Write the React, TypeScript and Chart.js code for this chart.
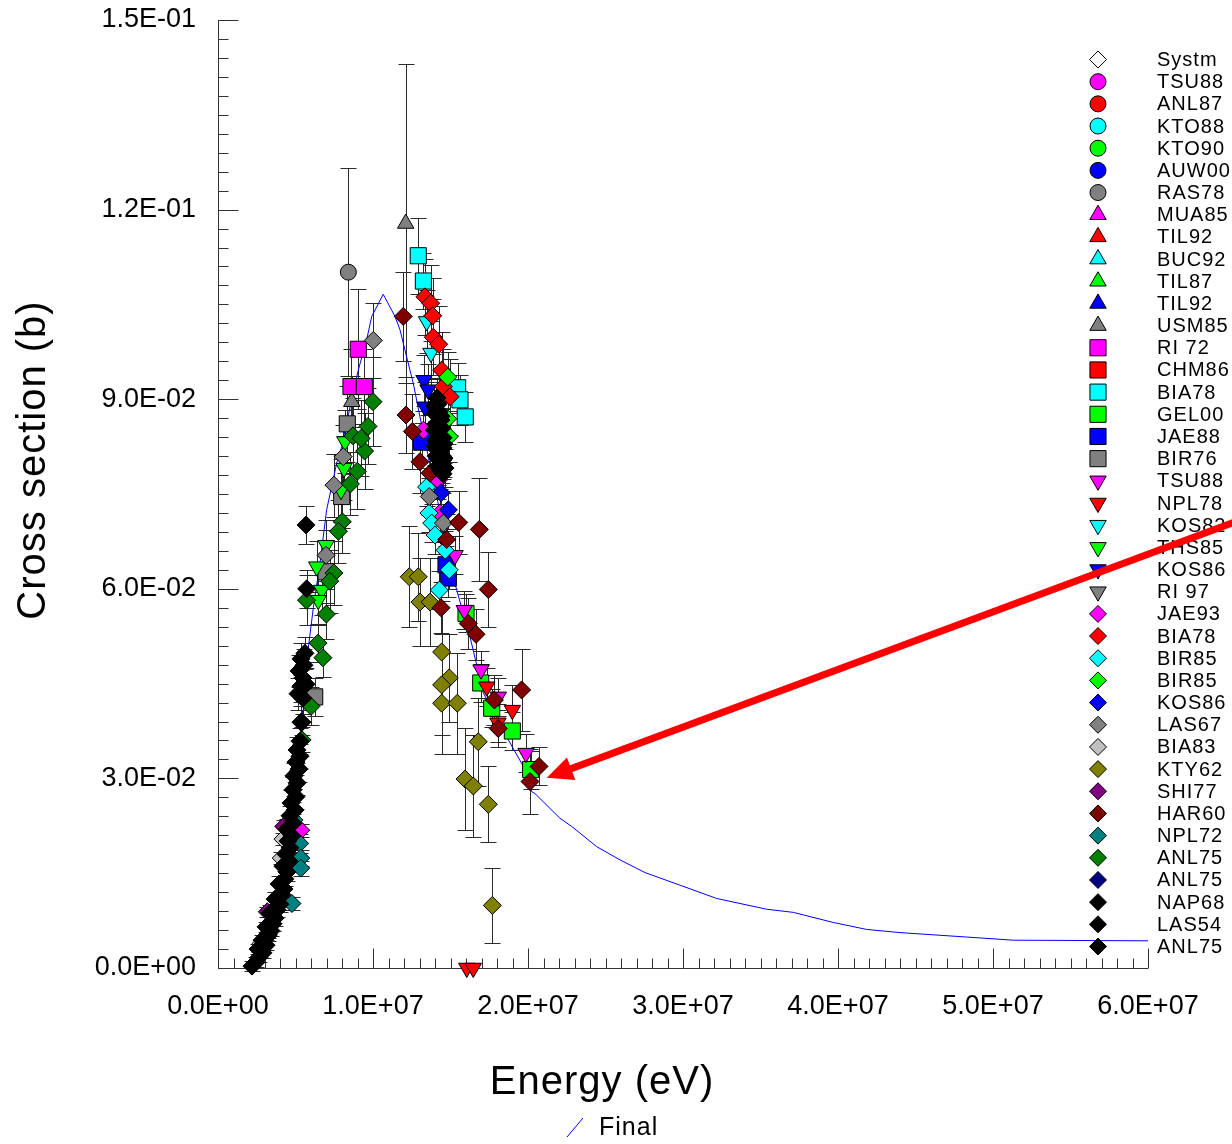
import React, { useEffect, useRef } from 'react';
import { Chart, registerables } from 'chart.js';
import { drawPoint } from 'chart.js/helpers';

Chart.register(...registerables);

const MEV = 1e6;
const FONT = '"Liberation Sans", Arial, Helvetica, sans-serif';

const X_TITLE = 'Energy (eV)';
const Y_TITLE = 'Cross section (b)';
const CURVE_LABEL = 'Final';

// Evaluated curve (energy in MeV, cross section in b)
const FINAL_E = [2.19, 2.84, 3.68, 4.65, 5.27, 5.81, 6.15, 6.58, 7.01, 7.66, 7.98, 8.52, 9.05, 9.59, 9.92, 10.66, 11.42, 11.74, 12.17, 12.60, 13.03, 15.29, 15.40, 16.26, 17.12, 18.08, 18.73, 19.70, 20.24, 20.45, 22.06, 22.82, 24.43, 25.94, 27.55, 29.81, 32.17, 35.40, 37.12, 39.70, 41.85, 44.00, 48.30, 51.31, 60.0];
const FINAL_S = [0, 0.0044, 0.0108, 0.0203, 0.0334, 0.0503, 0.0570, 0.0641, 0.0725, 0.0799, 0.0825, 0.0888, 0.0946, 0.0994, 0.1031, 0.1066, 0.1031, 0.1010, 0.0967, 0.0925, 0.0872, 0.0609, 0.0598, 0.0524, 0.0435, 0.0392, 0.0361, 0.0319, 0.0279, 0.0276, 0.0237, 0.0224, 0.0192, 0.0171, 0.0151, 0.0131, 0.0110, 0.0093, 0.0088, 0.0072, 0.0061, 0.0056, 0.0049, 0.0044, 0.0043];

// Experimental data sets: energy (MeV), cross section (b), uncertainty (b)
const RAS78_E = [8.41];
const RAS78_S = [0.1101];
const RAS78_D = [0.0165];

const USM85_E = [12.11, 8.63];
const USM85_S = [0.1178, 0.0896];
const USM85_D = [0.0252, 0.004];

const RI72_E = [9.05, 8.58, 9.44];
const RI72_S = [0.0979, 0.0920, 0.0920];
const RI72_D = [0.0095, 0.006, 0.006];

const BIA78SQ_E = [12.92, 13.25, 15.46, 15.61, 15.95];
const BIA78SQ_S = [0.1127, 0.1087, 0.0918, 0.0899, 0.0872];
const BIA78SQ_D = [0.006, 0.0045, 0.004, 0.004, 0.004];

const GEL00_E = [16.00, 16.95, 17.66, 18.99, 20.17];
const GEL00_S = [0.0561, 0.0451, 0.0411, 0.0375, 0.0314];
const GEL00_D = [0.003, 0.003, 0.003, 0.003, 0.003];

const JAE88_E = [13.13, 14.86, 14.71];
const JAE88_S = [0.0832, 0.0617, 0.0638];
const JAE88_D = [0.003, 0.003, 0.003];

const BIR76_E = [8.34, 7.98, 6.24, 6.97];
const BIR76_S = [0.0861, 0.0746, 0.0429, 0.0627];
const BIR76_D = [0.006, 0.005, 0.003, 0.005];

const TSU88T_E = [15.29, 15.89, 16.97, 18.08, 19.87];
const TSU88T_S = [0.0653, 0.0566, 0.0472, 0.0429, 0.0340];
const TSU88T_D = [0.003, 0.003, 0.003, 0.003, 0.003];

const NPL78_E = [17.34, 18.99, 18.06, 16.05, 16.47];
const NPL78_S = [0.0445, 0.0408, 0.0388, 0, 0];
const NPL78_D = [0.003, 0.004, 0.003, 0, 0];

const KOS82_E = [13.46, 13.74];
const KOS82_S = [0.1023, 0.0973];
const KOS82_D = [0.005, 0.005];

const THS85_E = [8.19, 8.13, 7.94, 6.97, 6.37, 6.69, 6.47];
const THS85_S = [0.0833, 0.0791, 0.0756, 0.0669, 0.0635, 0.0598, 0.0582];
const THS85_D = [0.005, 0.005, 0.005, 0.004, 0.004, 0.004, 0.004];

const KOS86T_E = [13.29, 13.55, 13.35];
const KOS86T_S = [0.0930, 0.0915, 0.0888];
const KOS86T_D = [0.004, 0.004, 0.004];

const JAE93_E = [14.21, 14.32, 13.25, 5.34, 14.71];
const JAE93_S = [0.0772, 0.0720, 0.0851, 0.0218, 0.0677];
const JAE93_D = [0.003, 0.003, 0.003, 0.001, 0.003];

const BIA78D_E = [13.35, 13.72, 13.85, 13.89, 14.24, 14.43, 14.54, 14.97];
const BIA78D_S = [0.1062, 0.1052, 0.1032, 0.0998, 0.0987, 0.0946, 0.0920, 0.0904];
const BIA78D_D = [0.006, 0.006, 0.006, 0.006, 0.006, 0.006, 0.006, 0.006];

const BIR85C_E = [13.46, 13.61, 13.79, 14.00, 14.65, 14.92, 14.28];
const BIR85C_S = [0.0761, 0.0720, 0.0704, 0.0685, 0.0661, 0.0630, 0.0598];
const BIR85C_D = [0.003, 0.003, 0.003, 0.003, 0.003, 0.003, 0.003];

const BIR85G_E = [14.82, 14.82, 14.92];
const BIR85G_S = [0.0935, 0.0869, 0.0841];
const BIR85G_D = [0.004, 0.004, 0.004];

const KOS86D_E = [14.39, 14.86, 14.52];
const KOS86D_S = [0.0752, 0.0725, 0.0804];
const KOS86D_D = [0.003, 0.003, 0.003];

const LAS67_E = [10.02, 8.08, 7.48, 6.97, 14.15, 13.63, 14.54];
const LAS67_S = [0.0993, 0.0809, 0.0764, 0.0653, 0.0894, 0.0746, 0.0704];
const LAS67_D = [0.006, 0.005, 0.005, 0.004, 0.004, 0.003, 0.003];

const BIA83_E = [4.19, 4.08, 2.79];
const BIA83_S = [0.0204, 0.0174, 0.0039];
const BIA83_D = [0.001, 0.001, 0.0005];

const KTY62_E = [12.34, 12.92, 13.03, 13.68, 14.43, 14.92, 14.43, 14.43, 15.44, 16.79, 15.94, 16.47, 17.44, 17.70];
const KTY62_S = [0.0619, 0.0619, 0.0579, 0.0579, 0.0500, 0.0459, 0.0448, 0.0419, 0.0419, 0.0358, 0.0299, 0.0288, 0.0259, 0.0099];
const KTY62_D = [0.008, 0.007, 0.007, 0.007, 0.008, 0.007, 0.008, 0.008, 0.008, 0.007, 0.008, 0.008, 0.006, 0.006];

const SHI77_E = [4.24, 3.18];
const SHI77_S = [0.0224, 0.0089];
const SHI77_D = [0.001, 0.0008];

const HAR60_E = [11.95, 12.13, 12.54, 13.03, 13.68, 15.53, 16.86, 17.44, 14.39, 16.15, 16.65, 14.75, 19.59, 17.83, 18.08, 20.71, 20.13];
const HAR60_S = [0.1031, 0.0875, 0.0849, 0.0801, 0.0783, 0.0705, 0.0694, 0.0599, 0.0570, 0.0545, 0.0528, 0.0678, 0.0440, 0.0424, 0.0379, 0.0319, 0.0295];
const HAR60_D = [0.0071, 0.006, 0.006, 0.005, 0.004, 0.005, 0.0082, 0.006, 0.004, 0.004, 0.004, 0.004, 0.0065, 0.004, 0.003, 0.003, 0.0052];

const NPL72_E = [4.90, 5.27, 5.34, 5.34, 4.77];
const NPL72_S = [0.0234, 0.0197, 0.0174, 0.0158, 0.0102];
const NPL72_D = [0.0015, 0.0015, 0.0012, 0.0012, 0.001];

const ANL75G_E = [10.00, 9.68, 9.46, 8.99, 8.54, 8.71, 9.23, 8.02, 7.77, 7.48, 7.21, 6.99, 6.45, 6.77, 5.71, 6.00, 5.42];
const ANL75G_S = [0.0896, 0.0857, 0.0818, 0.0786, 0.0766, 0.0842, 0.0838, 0.0706, 0.0691, 0.0625, 0.0612, 0.0560, 0.0514, 0.0491, 0.0582, 0.0414, 0.0361];
const ANL75G_D = [0.007, 0.006, 0.006, 0.006, 0.005, 0.006, 0.006, 0.005, 0.005, 0.005, 0.005, 0.004, 0.003, 0.003, 0.004, 0.003, 0.002];

const ANL75N_E = [3.23, 2.84];
const ANL75N_S = [0.0053, 0.0028];
const ANL75N_D = [0.0005, 0.0005];

const NAP68_E = [14.13, 13.94, 14.19, 14.00, 14.26, 14.39, 14.06, 13.94, 14.45, 14.19, 14.52, 14.06, 14.32, 14.52, 14.13, 14.39, 14.58, 14.26, 14.45, 14.65, 14.32, 14.52, 14.19, 14.00, 14.39, 14.58, 14.06];
const NAP68_S = [0.0902, 0.0889, 0.0892, 0.0877, 0.0880, 0.0867, 0.0861, 0.0851, 0.0854, 0.0845, 0.0839, 0.0835, 0.0829, 0.0823, 0.0820, 0.0813, 0.0807, 0.0804, 0.0797, 0.0791, 0.0788, 0.0782, 0.0794, 0.0826, 0.0873, 0.0829, 0.0810];
const NAP68_D = [0.003, 0.003, 0.003, 0.003, 0.003, 0.003, 0.003, 0.003, 0.003, 0.003, 0.003, 0.003, 0.003, 0.003, 0.003, 0.003, 0.003, 0.003, 0.003, 0.003, 0.003, 0.003, 0.003, 0.003, 0.003, 0.003, 0.003];

const LAS54_E = [5.68, 5.72, 5.42, 5.29];
const LAS54_S = [0.0701, 0.0600, 0.0389, 0.0359];
const LAS54_D = [0.003, 0.003, 0.002, 0.002];

const ANL75K_E = [2.19, 2.45, 2.65, 2.90, 2.58, 3.10, 2.84, 3.23, 3.42, 3.10, 3.55, 3.68, 3.35, 3.81, 4.00, 3.68, 4.13, 4.26, 3.94, 4.32, 4.45, 4.19, 4.58, 4.39, 4.65, 4.52, 4.77, 4.45, 4.84, 4.65, 4.97, 4.71, 5.03, 4.84, 5.10, 4.90, 5.23, 5.03, 5.29, 5.10, 5.35, 5.16, 5.35, 5.48, 5.23, 5.55, 5.35, 5.68, 5.48, 5.61];
const ANL75K_S = [0.0003, 0.0009, 0.0017, 0.0024, 0.0030, 0.0036, 0.0044, 0.0051, 0.0059, 0.0065, 0.0070, 0.0079, 0.0087, 0.0092, 0.0101, 0.0109, 0.0116, 0.0125, 0.0133, 0.0141, 0.0152, 0.0161, 0.0169, 0.0180, 0.0190, 0.0201, 0.0209, 0.0220, 0.0229, 0.0241, 0.0250, 0.0261, 0.0271, 0.0282, 0.0293, 0.0304, 0.0315, 0.0326, 0.0335, 0.0345, 0.0389, 0.0434, 0.0446, 0.0459, 0.0470, 0.0479, 0.0489, 0.0449, 0.0427, 0.0498];
const ANL75K_D = [0.0008, 0.0008, 0.0008, 0.0008, 0.0008, 0.0008, 0.0008, 0.0008, 0.0008, 0.0008, 0.0012, 0.0012, 0.0012, 0.0012, 0.0012, 0.0012, 0.0012, 0.0012, 0.0012, 0.0012, 0.0015, 0.0015, 0.0015, 0.0015, 0.0015, 0.0015, 0.0015, 0.0015, 0.0015, 0.0015, 0.002, 0.002, 0.002, 0.002, 0.002, 0.002, 0.002, 0.002, 0.002, 0.002, 0.0025, 0.0025, 0.0025, 0.0025, 0.0025, 0.0025, 0.0025, 0.0025, 0.0025, 0.0025];

const EMPTY: number[] = [];

// Legend order: label, marker shape, fill colour, data
const SERIES = [
  { label: 'Systm', shape: 'diamond', color: '#ffffff', e: EMPTY, s: EMPTY, d: EMPTY },
  { label: 'TSU88', shape: 'circle', color: '#ff00ff', e: EMPTY, s: EMPTY, d: EMPTY },
  { label: 'ANL87', shape: 'circle', color: '#ff0000', e: EMPTY, s: EMPTY, d: EMPTY },
  { label: 'KTO88', shape: 'circle', color: '#00ffff', e: EMPTY, s: EMPTY, d: EMPTY },
  { label: 'KTO90', shape: 'circle', color: '#00ff00', e: EMPTY, s: EMPTY, d: EMPTY },
  { label: 'AUW00', shape: 'circle', color: '#0000ff', e: EMPTY, s: EMPTY, d: EMPTY },
  { label: 'RAS78', shape: 'circle', color: '#808080', e: RAS78_E, s: RAS78_S, d: RAS78_D },
  { label: 'MUA85', shape: 'tri', color: '#ff00ff', e: EMPTY, s: EMPTY, d: EMPTY },
  { label: 'TIL92', shape: 'tri', color: '#ff0000', e: EMPTY, s: EMPTY, d: EMPTY },
  { label: 'BUC92', shape: 'tri', color: '#00ffff', e: EMPTY, s: EMPTY, d: EMPTY },
  { label: 'TIL87', shape: 'tri', color: '#00ff00', e: EMPTY, s: EMPTY, d: EMPTY },
  { label: 'TIL92', shape: 'tri', color: '#0000ff', e: EMPTY, s: EMPTY, d: EMPTY },
  { label: 'USM85', shape: 'tri', color: '#808080', e: USM85_E, s: USM85_S, d: USM85_D },
  { label: 'RI 72', shape: 'square', color: '#ff00ff', e: RI72_E, s: RI72_S, d: RI72_D },
  { label: 'CHM86', shape: 'square', color: '#ff0000', e: EMPTY, s: EMPTY, d: EMPTY },
  { label: 'BIA78', shape: 'square', color: '#00ffff', e: BIA78SQ_E, s: BIA78SQ_S, d: BIA78SQ_D },
  { label: 'GEL00', shape: 'square', color: '#00ff00', e: GEL00_E, s: GEL00_S, d: GEL00_D },
  { label: 'JAE88', shape: 'square', color: '#0000ff', e: JAE88_E, s: JAE88_S, d: JAE88_D },
  { label: 'BIR76', shape: 'square', color: '#808080', e: BIR76_E, s: BIR76_S, d: BIR76_D },
  { label: 'TSU88', shape: 'dtri', color: '#ff00ff', e: TSU88T_E, s: TSU88T_S, d: TSU88T_D },
  { label: 'NPL78', shape: 'dtri', color: '#ff0000', e: NPL78_E, s: NPL78_S, d: NPL78_D },
  { label: 'KOS82', shape: 'dtri', color: '#00ffff', e: KOS82_E, s: KOS82_S, d: KOS82_D },
  { label: 'THS85', shape: 'dtri', color: '#00ff00', e: THS85_E, s: THS85_S, d: THS85_D },
  { label: 'KOS86', shape: 'dtri', color: '#0000ff', e: KOS86T_E, s: KOS86T_S, d: KOS86T_D },
  { label: 'RI 97', shape: 'dtri', color: '#808080', e: EMPTY, s: EMPTY, d: EMPTY },
  { label: 'JAE93', shape: 'diamond', color: '#ff00ff', e: JAE93_E, s: JAE93_S, d: JAE93_D },
  { label: 'BIA78', shape: 'diamond', color: '#ff0000', e: BIA78D_E, s: BIA78D_S, d: BIA78D_D },
  { label: 'BIR85', shape: 'diamond', color: '#00ffff', e: BIR85C_E, s: BIR85C_S, d: BIR85C_D },
  { label: 'BIR85', shape: 'diamond', color: '#00ff00', e: BIR85G_E, s: BIR85G_S, d: BIR85G_D },
  { label: 'KOS86', shape: 'diamond', color: '#0000ff', e: KOS86D_E, s: KOS86D_S, d: KOS86D_D },
  { label: 'LAS67', shape: 'diamond', color: '#808080', e: LAS67_E, s: LAS67_S, d: LAS67_D },
  { label: 'BIA83', shape: 'diamond', color: '#c0c0c0', e: BIA83_E, s: BIA83_S, d: BIA83_D },
  { label: 'KTY62', shape: 'diamond', color: '#808000', e: KTY62_E, s: KTY62_S, d: KTY62_D },
  { label: 'SHI77', shape: 'diamond', color: '#800080', e: SHI77_E, s: SHI77_S, d: SHI77_D },
  { label: 'HAR60', shape: 'diamond', color: '#800000', e: HAR60_E, s: HAR60_S, d: HAR60_D },
  { label: 'NPL72', shape: 'diamond', color: '#008080', e: NPL72_E, s: NPL72_S, d: NPL72_D },
  { label: 'ANL75', shape: 'diamond', color: '#008000', e: ANL75G_E, s: ANL75G_S, d: ANL75G_D },
  { label: 'ANL75', shape: 'diamond', color: '#000080', e: ANL75N_E, s: ANL75N_S, d: ANL75N_D },
  { label: 'NAP68', shape: 'diamond', color: '#000000', e: NAP68_E, s: NAP68_S, d: NAP68_D },
  { label: 'LAS54', shape: 'diamond', color: '#000000', e: LAS54_E, s: LAS54_S, d: LAS54_D },
  { label: 'ANL75', shape: 'diamond', color: '#000000', e: ANL75K_E, s: ANL75K_S, d: ANL75K_D },
];

// Arrow annotation (data coordinates): from beyond the right edge to the last point
const ARROW_FROM = [65.94, 0.0709];
const ARROW_TO = [21.21, 0.0301];

const X_MAJOR = 1e7;
const X_MINOR = 1e6;
const Y_MAJOR = 0.03;
const Y_MINOR = 0.003;

// Target plot frame
const AREA = { left: 218, top: 20, right: 1148, bottom: 968 };

function shapeStyle(shape: string) {
  switch (shape) {
    case 'circle': return { pointStyle: 'circle', rotation: 0, radius: 8 };
    case 'tri': return { pointStyle: 'triangle', rotation: 0, radius: 9.5 };
    case 'dtri': return { pointStyle: 'triangle', rotation: 180, radius: 9.5 };
    case 'square': return { pointStyle: 'rect', rotation: 0, radius: 11.4 };
    default: return { pointStyle: 'rectRot', rotation: 0, radius: 9 };
  }
}

function sci(v: number) {
  if (Math.abs(v) < 1e-12) return '0.0E+00';
  const e = Math.floor(Math.log10(Math.abs(v)) + 1e-9);
  const m = v / Math.pow(10, e);
  const sign = e < 0 ? '-' : '+';
  return m.toFixed(1) + 'E' + sign + String(Math.abs(e)).padStart(2, '0');
}

const axesPlugin = {
  id: 'axesPlugin',
  beforeDatasetsDraw(chart: any) {
    const { ctx, chartArea } = chart;
    const xs = chart.scales.x, ys = chart.scales.y;
    ctx.save();
    ctx.strokeStyle = '#333';
    ctx.lineWidth = 1;
    const x0 = Math.round(chartArea.left) + 0.5;
    const y0 = Math.round(chartArea.bottom) + 0.5;
    ctx.beginPath();
    ctx.moveTo(x0, chartArea.top);
    ctx.lineTo(x0, y0);
    ctx.lineTo(chartArea.right, y0);
    const nY = Math.round((ys.max - ys.min) / Y_MINOR);
    for (let i = 0; i <= nY; i++) {
      const v = ys.min + i * Y_MINOR;
      const py = Math.round(ys.getPixelForValue(v)) + 0.5;
      const len = i % Math.round(Y_MAJOR / Y_MINOR) === 0 ? 20 : 10;
      ctx.moveTo(x0, py);
      ctx.lineTo(x0 + len, py);
    }
    const nX = Math.round((xs.max - xs.min) / X_MINOR);
    for (let i = 0; i <= nX; i++) {
      const v = xs.min + i * X_MINOR;
      const px = Math.round(xs.getPixelForValue(v)) + 0.5;
      const len = i % Math.round(X_MAJOR / X_MINOR) === 0 ? 20 : 10;
      ctx.moveTo(px, y0);
      ctx.lineTo(px, y0 - len);
    }
    ctx.stroke();
    ctx.restore();
  },
};

const errorBarPlugin = {
  id: 'errorBars',
  beforeDatasetsDraw(chart: any) {
    const { ctx } = chart;
    const xs = chart.scales.x, ys = chart.scales.y;
    ctx.save();
    ctx.lineWidth = 1;
    chart.data.datasets.forEach((ds: any) => {
      if (!ds.errors) return;
      ctx.strokeStyle = '#2a2a2a';
      ds.data.forEach((p: any, j: number) => {
        const e = ds.errors[j];
        if (!e) return;
        const px = Math.round(xs.getPixelForValue(p.x)) + 0.5;
        const yt = Math.round(ys.getPixelForValue(p.y + e)) + 0.5;
        const yb = Math.round(ys.getPixelForValue(p.y - e)) + 0.5;
        ctx.beginPath();
        ctx.moveTo(px, yt);
        ctx.lineTo(px, yb);
        ctx.moveTo(px - 8, yt);
        ctx.lineTo(px + 8, yt);
        ctx.moveTo(px - 8, yb);
        ctx.lineTo(px + 8, yb);
        ctx.stroke();
      });
    });
    ctx.restore();
  },
};

const overlayPlugin = {
  id: 'overlay',
  afterDraw(chart: any) {
    const { ctx } = chart;
    const xs = chart.scales.x, ys = chart.scales.y;
    ctx.save();
    ctx.fillStyle = '#000';
    ctx.textBaseline = 'middle';
    ctx.textAlign = 'center';
    (ctx as any).letterSpacing = '1px';
    ctx.font = `40px ${FONT}`;
    ctx.fillText(X_TITLE, 602, 1083);
    ctx.save();
    ctx.translate(34, 460);
    ctx.rotate(-Math.PI / 2);
    ctx.fillText(Y_TITLE, 0, 0);
    ctx.restore();

    // legend of data sets
    ctx.font = `20px ${FONT}`;
    ctx.textAlign = 'left';
    SERIES.forEach((s, i) => {
      const yy = 59.5 + i * 22.175;
      const st = shapeStyle(s.shape);
      ctx.fillStyle = s.color;
      ctx.strokeStyle = '#000';
      ctx.lineWidth = 1;
      drawPoint(ctx, { pointStyle: st.pointStyle, rotation: st.rotation, radius: s.shape === 'diamond' ? 8.5 : st.radius, borderWidth: 1 } as any, 1098, yy);
      ctx.fillStyle = '#000';
      ctx.fillText(s.label, 1157, yy + 1);
    });

    // curve legend
    ctx.strokeStyle = '#0000ff';
    ctx.lineWidth = 1;
    ctx.beginPath();
    ctx.moveTo(567, 1137);
    ctx.lineTo(583, 1118);
    ctx.stroke();
    ctx.fillStyle = '#000';
    ctx.font = `25px ${FONT}`;
    ctx.fillText(CURVE_LABEL, 599, 1128);

    // red arrow
    const fx = xs.getPixelForValue(ARROW_FROM[0] * MEV), fy = ys.getPixelForValue(ARROW_FROM[1]);
    const tx = xs.getPixelForValue(ARROW_TO[0] * MEV), ty = ys.getPixelForValue(ARROW_TO[1]);
    const dx = tx - fx, dy = ty - fy;
    const L = Math.hypot(dx, dy);
    const ux = dx / L, uy = dy / L;
    const headLen = 26, headHalf = 12;
    const bx = tx - ux * headLen, by = ty - uy * headLen;
    ctx.strokeStyle = '#ff0000';
    ctx.fillStyle = '#ff0000';
    ctx.lineWidth = 7;
    ctx.beginPath();
    ctx.moveTo(fx, fy);
    ctx.lineTo(bx + ux * 2, by + uy * 2);
    ctx.stroke();
    ctx.beginPath();
    ctx.moveTo(tx, ty);
    ctx.lineTo(bx - uy * headHalf, by + ux * headHalf);
    ctx.lineTo(bx + uy * headHalf, by - ux * headHalf);
    ctx.closePath();
    ctx.fill();
    ctx.restore();
  },
};

export default function App() {
  const ref = useRef<HTMLCanvasElement | null>(null);
  useEffect(() => {
    if (!ref.current) return;
    const N = SERIES.length;
    const frame = { padTop: AREA.top, padRight: 1232 - AREA.right, xHeight: 1144 - AREA.bottom, yWidth: AREA.left };
    const datasets: any[] = SERIES.map((s, i) => {
      const st = shapeStyle(s.shape);
      return {
        label: s.label,
        data: s.e.map((e, j) => ({ x: e * MEV, y: s.s[j] })),
        errors: s.d,
        pointStyle: st.pointStyle,
        pointRotation: st.rotation,
        pointRadius: st.radius,
        pointHoverRadius: st.radius,
        pointBackgroundColor: s.color,
        pointBorderColor: '#000',
        pointBorderWidth: 1,
        showLine: false,
        clip: false,
        order: N - i + 1,
      };
    });
    datasets.push({
      label: CURVE_LABEL,
      data: FINAL_E.map((e, j) => ({ x: e * MEV, y: FINAL_S[j] })),
      showLine: true,
      borderColor: '#0000ff',
      borderWidth: 1,
      pointRadius: 0,
      fill: false,
      tension: 0,
      clip: false,
      order: N + 10,
    });
    const chart = new Chart(ref.current, {
      type: 'scatter',
      data: { datasets },
      options: {
        animation: false,
        responsive: false,
        maintainAspectRatio: false,
        events: [],
        layout: { padding: { left: 0, right: frame.padRight, top: frame.padTop, bottom: 0 } },
        plugins: { legend: { display: false }, tooltip: { enabled: false }, title: { display: false } },
        scales: {
          x: {
            type: 'linear',
            min: 0,
            max: 6e7,
            grid: { display: false, drawTicks: true, tickLength: 22 },
            border: { display: false },
            ticks: {
              stepSize: X_MAJOR,
              autoSkip: false,
              maxRotation: 0,
              minRotation: 0,
              padding: 0,
              color: '#000',
              font: { family: FONT, size: 27 },
              callback: (v: any) => sci(Number(v)),
            },
            afterFit: (s: any) => { s.height = frame.xHeight; },
          },
          y: {
            type: 'linear',
            min: 0,
            max: 0.15,
            grid: { display: false, drawTicks: true, tickLength: 22 },
            border: { display: false },
            ticks: {
              stepSize: Y_MAJOR,
              autoSkip: false,
              padding: 0,
              color: '#000',
              font: { family: FONT, size: 27 },
              callback: (v: any) => sci(Number(v)),
            },
            afterFit: (s: any) => { s.width = frame.yWidth; s.paddingTop = 0; s.paddingBottom = 0; },
          },
        },
      } as any,
      plugins: [axesPlugin, errorBarPlugin, overlayPlugin],
    });
    // Nudge the layout so the plot frame lands exactly on the target box
    for (let k = 0; k < 3; k++) {
      const ca = chart.chartArea;
      const dTop = AREA.top - ca.top;
      const dBottom = ca.bottom - AREA.bottom;
      const dLeft = AREA.left - ca.left;
      const dRight = ca.right - AREA.right;
      if (Math.abs(dTop) < 0.5 && Math.abs(dBottom) < 0.5 && Math.abs(dLeft) < 0.5 && Math.abs(dRight) < 0.5) break;
      frame.padTop = Math.max(0, frame.padTop + dTop);
      frame.xHeight = frame.xHeight + dBottom;
      frame.yWidth = frame.yWidth + dLeft;
      frame.padRight = Math.max(0, frame.padRight + dRight);
      (chart.options as any).layout.padding = { left: 0, right: frame.padRight, top: frame.padTop, bottom: 0 };
      chart.update();
    }
    return () => chart.destroy();
  }, []);
  return (
    <div style={{ position: 'absolute', left: 0, top: 0, width: 1232, height: 1144, background: '#fff' }}>
      <canvas ref={ref} width={1232} height={1144} style={{ display: 'block', width: 1232, height: 1144 }} />
    </div>
  );
}
